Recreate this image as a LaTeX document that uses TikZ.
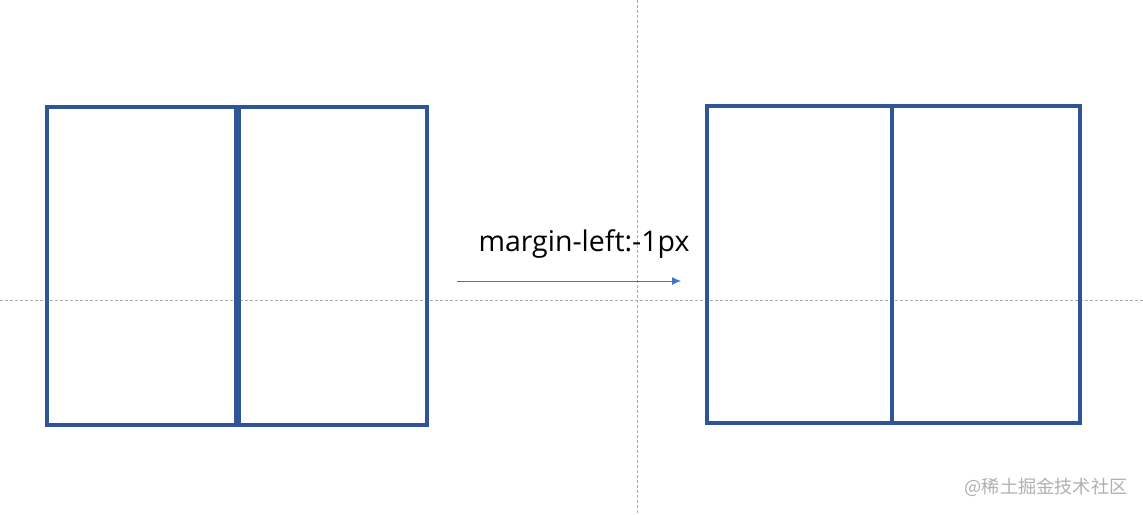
\documentclass[tikz,border=0pt]{standalone}
\usepackage{fontspec}
\usetikzlibrary{arrows.meta}
\setmainfont{Open Sans}
\newfontfamily\cjkwm{Noto Sans CJK SC}
\definecolor{boxblue}{HTML}{2F5597}
\definecolor{arrowblue}{HTML}{4472C4}
\definecolor{guidegrey}{HTML}{ABABAB}
\definecolor{wmgrey}{HTML}{B0B0B0}
\begin{document}
\begin{tikzpicture}[x=1pt, y=-1pt]
\tikzset{boxline/.style={draw=boxblue, line width=4pt},
  guide/.style={draw=guidegrey, line width=0.8pt, dash pattern=on 3pt off 2pt}}
\useasboundingbox (0,0) rectangle (1143,514);
% guide lines
\draw [guide] (0,300) -- (1143,300);
\draw [guide] (637,0) -- (637,514);
% left: two borders side by side
\draw [boxline] (47,107) rectangle (427,425);
\draw [boxline, line width=7pt] (237.5,107) -- (237.5,425);
% right: overlapped border
\draw [boxline] (707,106) rectangle (1080,423);
\draw [boxline] (892,106) -- (892,423);
% arrow and label
\coordinate (from) at (457,281);
\coordinate (to) at (681,281);
\draw [arrowblue, line width=0.9pt, -{Latex[length=9pt,width=8pt]}] (from) -- (to);
\node (lbl) at (584,244) {\fontsize{28.5}{32}\selectfont margin-left:-1px};
\node [text=wmgrey] (wm) at (1046,487) {\cjkwm\fontsize{18.2}{21}\selectfont @稀土掘金技术社区};
\end{tikzpicture}
\end{document}
